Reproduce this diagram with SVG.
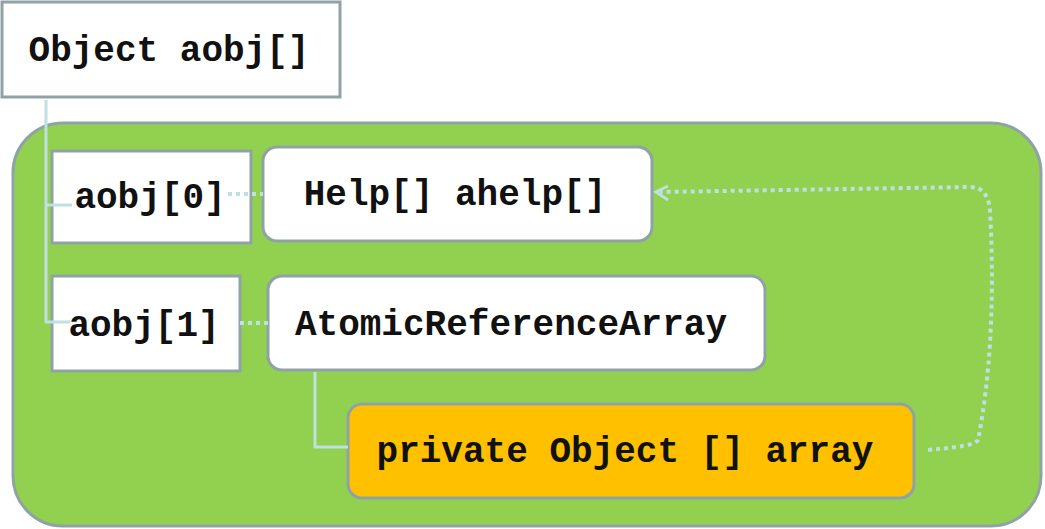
<svg xmlns="http://www.w3.org/2000/svg" width="1045" height="529" viewBox="0 0 1045 529">
<style>
.t{font-family:"Liberation Mono","Courier New",monospace;font-weight:bold;font-size:36px;fill:#111}
.b{fill:#fff;stroke:#8fa3a6;stroke-width:3}
.c{fill:none;stroke:#bde0e2;stroke-width:3}
.d{fill:none;stroke:#bde0e2;stroke-width:4;stroke-dasharray:4 4}
.h{fill:none;stroke:#bde0e2;stroke-width:3}
</style>
<g id="container"><rect x="13" y="123" width="1028" height="403" rx="50" fill="#92d050" stroke="#8fa3a6" stroke-width="3"/></g>
<g id="n-aobj"><rect class="b" x="2" y="2" width="338" height="95"/><text class="t" x="169" y="61" text-anchor="middle">Object aobj[]</text></g>
<g id="n-a0"><rect class="b" x="52" y="151" width="199" height="92"/><text class="t" x="150" y="208" text-anchor="middle">aobj[0]</text></g>
<g id="n-a1"><rect class="b" x="52" y="276" width="188" height="95"/><text class="t" x="144" y="336" text-anchor="middle">aobj[1]</text></g>
<g id="n-help"><rect class="b" x="263" y="147" width="389" height="94" rx="14"/><text class="t" x="455" y="205" text-anchor="middle">Help[] ahelp[]</text></g>
<g id="n-ara"><rect class="b" x="268" y="276" width="497" height="94" rx="14"/><text class="t" x="511" y="335" text-anchor="middle">AtomicReferenceArray</text></g>
<g id="n-arr"><rect x="348" y="404" width="566" height="94" rx="14" fill="#ffc000" stroke="#8fa3a6" stroke-width="3"/><text class="t" x="625" y="462" text-anchor="middle">private Object [] array</text></g>
<g id="connectors">
<path class="c" d="M46 100 V322 H70 M46 205 H72"/>
<path class="c" d="M315 372 V447 H348"/>
<path class="d" d="M228 194 H263 M240 323 H268"/>
<path class="d" d="M928 450 C960 447 975 445 978 440 C990 380 995 300 990 210 C988 192 980 187 970 187 L660 192"/>
<path class="h" d="M668 186 L656 192 L668 200"/>
</g>
</svg>
